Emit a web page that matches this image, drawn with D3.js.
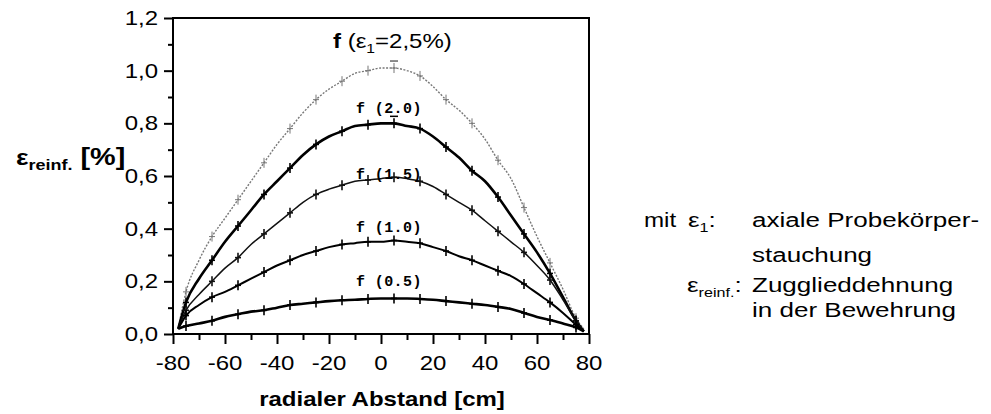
<!DOCTYPE html>
<html>
<head>
<meta charset="utf-8">
<script src="https://cdn.jsdelivr.net/npm/d3@7"></script>
<style>
  body { margin: 0; background: #fff; }
  text { font-family: "Liberation Sans", Arial, sans-serif; fill: #000; }
  .mono { font-family: "Liberation Mono", "DejaVu Sans Mono", monospace; font-weight: bold; }
</style>
</head>
<body>
<svg id="chart" width="991" height="414"></svg>
<script>
// radial distance [cm]
const radius = [-78, -75, -70, -65, -60, -55, -50, -45, -40, -35, -30, -25, -20, -15, -10, -5, 0,
                5, 10, 15, 20, 25, 30, 35, 40, 45, 50, 55, 60, 65, 70, 75, 78];

// reinforcement strain [%] for each axial strain eps1
const f25 = [0.02, 0.16, 0.28, 0.37, 0.44, 0.51, 0.58, 0.65, 0.72, 0.78, 0.84, 0.89, 0.93, 0.96, 0.99, 1.00, 1.01,
             1.01, 1.00, 0.98, 0.94, 0.89, 0.85, 0.80, 0.74, 0.66, 0.59, 0.48, 0.37, 0.27, 0.17, 0.06, 0.02];
const f20 = [0.02, 0.12, 0.21, 0.28, 0.35, 0.41, 0.47, 0.53, 0.58, 0.63, 0.68, 0.72, 0.75, 0.77, 0.79, 0.795, 0.80,
             0.80, 0.79, 0.78, 0.75, 0.71, 0.67, 0.62, 0.58, 0.52, 0.45, 0.38, 0.31, 0.23, 0.14, 0.05, 0.01];
const f15 = [0.02, 0.09, 0.15, 0.20, 0.25, 0.29, 0.34, 0.38, 0.42, 0.46, 0.50, 0.53, 0.55, 0.565, 0.58, 0.585, 0.59,
             0.595, 0.59, 0.58, 0.56, 0.53, 0.50, 0.47, 0.43, 0.39, 0.35, 0.31, 0.26, 0.205, 0.13, 0.05, 0.01];
const f10 = [0.02, 0.07, 0.11, 0.14, 0.16, 0.185, 0.21, 0.235, 0.26, 0.28, 0.30, 0.315, 0.33, 0.34, 0.345, 0.35, 0.35,
             0.355, 0.35, 0.345, 0.33, 0.315, 0.295, 0.28, 0.26, 0.24, 0.22, 0.19, 0.155, 0.12, 0.08, 0.035, 0.01];
const f05 = [0.02, 0.03, 0.04, 0.05, 0.065, 0.075, 0.085, 0.09, 0.10, 0.11, 0.115, 0.12, 0.125, 0.128, 0.13, 0.133, 0.135,
             0.135, 0.135, 0.133, 0.13, 0.125, 0.12, 0.115, 0.11, 0.103, 0.095, 0.08, 0.065, 0.053, 0.04, 0.025, 0.01];

// radii where the measurement crosses sit
const markerRadius = [-75, -65, -55, -45, -35, -25, -15, -5, 5, 15, 25, 35, 45, 55, 65, 75];

const xTicks = [-80, -60, -40, -20, 0, 20, 40, 60, 80];
const yTicks = [0, 0.2, 0.4, 0.6, 0.8, 1.0, 1.2];
const curveLabels = ["f (2.0)", "f (1.5)", "f (1.0)", "f (0.5)"];

const svg = d3.select("#chart");
const sx = 1.2; // the original lettering is a bit wide

const x = d3.scaleLinear().domain([-80, 80]).range([173, 589]);
const y = d3.scaleLinear().domain([0, 1.2]).range([334, 18]);

function label(g, px, py, anchor, size, weight, stretch) {
    return g.append("text")
        .attr("transform", "translate(" + px + "," + py + ") scale(" + (stretch || sx) + ",1)")
        .attr("text-anchor", anchor)
        .attr("font-size", size)
        .attr("font-weight", weight || "normal");
}

// curves
const series = [
    { v: f25, w: 1.4, col: "#777", dash: "2,1.5", marks: false },
    { v: f20, w: 2.6, col: "#000", dash: null, marks: true },
    { v: f15, w: 1.5, col: "#111", dash: null, marks: true },
    { v: f10, w: 2.0, col: "#000", dash: null, marks: true },
    { v: f05, w: 2.6, col: "#000", dash: null, marks: true }
];

const line = d3.line()
    .x(d => x(d[0]))
    .y(d => y(d[1]))
    .curve(d3.curveMonotoneX);

const plot = svg.append("g");

series.forEach(s => {
    const pts = radius.map((r, i) => [r, s.v[i]]);
    plot.append("path")
        .attr("d", line(pts))
        .attr("fill", "none")
        .attr("stroke", s.col)
        .attr("stroke-width", s.w)
        .attr("stroke-linejoin", "round")
        .attr("stroke-dasharray", s.dash);

    const m = pts.filter(p => markerRadius.includes(p[0]));
    const mg = plot.append("g")
        .attr("stroke", s.col)
        .attr("stroke-width", s.marks ? 1.6 : 1);
    mg.selectAll(".v").data(m).join("line")
        .attr("x1", d => x(d[0])).attr("x2", d => x(d[0]))
        .attr("y1", d => y(d[1]) - 5).attr("y2", d => y(d[1]) + 5);
    mg.selectAll(".h").data(m).join("line")
        .attr("x1", d => x(d[0]) - 3).attr("x2", d => x(d[0]) + 3)
        .attr("y1", d => y(d[1])).attr("y2", d => y(d[1]));
});

// error caps at r = 5 on the two upper curves
[f25, f20].forEach((v, k) => {
    const i = radius.indexOf(5);
    const cx = x(5), cy = y(v[i]) - 7;
    plot.append("line")
        .attr("x1", cx - 4).attr("x2", cx + 4).attr("y1", cy).attr("y2", cy)
        .attr("stroke", k === 0 ? "#666" : "#000").attr("stroke-width", 1.5);
});

// curve labels
const labelY = [113, 179, 232, 286];
curveLabels.forEach((t, i) => {
    plot.append("text")
        .attr("class", "mono")
        .attr("x", 356).attr("y", labelY[i])
        .attr("font-size", 15)
        .attr("letter-spacing", 0.4)
        .text(t);
});

const topLabel = label(svg, 333, 48, "start", 20);
topLabel.append("tspan").attr("font-weight", "bold").text("f");
topLabel.append("tspan").text(" (ε");
topLabel.append("tspan").attr("font-size", 13).attr("dy", 5).text("1");
topLabel.append("tspan").attr("dy", -5).text("=2,5%)");

// frame
svg.append("rect")
    .attr("x", x(-80)).attr("y", y(1.2))
    .attr("width", x(80) - x(-80)).attr("height", y(0) - y(1.2))
    .attr("fill", "none").attr("stroke", "#000").attr("stroke-width", 2);

// axes
const xAxis = svg.append("g")
    .attr("transform", "translate(0," + y(0) + ")")
    .call(d3.axisBottom(x).tickValues(d3.range(-80, 81, 10)).tickSize(6).tickFormat(""));
xAxis.selectAll(".tick line")
    .attr("stroke-width", 2)
    .attr("y2", d => d % 20 === 0 ? 10 : 6);
xAxis.select(".domain").remove();

const yAxis = svg.append("g")
    .attr("transform", "translate(" + x(-80) + ",0)")
    .call(d3.axisLeft(y).tickValues(d3.range(0, 1.21, 0.1)).tickSize(6).tickFormat(""));
yAxis.selectAll(".tick line")
    .attr("stroke-width", 2)
    .attr("x2", (d, i) => i % 2 === 0 ? -9 : -5);
yAxis.select(".domain").remove();

xTicks.forEach(t => {
    label(svg, x(t), 370, "middle", 20).text(t);
});
yTicks.forEach(t => {
    label(svg, 158, y(t) + 7, "end", 20).text(d3.format(".1f")(t).replace(".", ","));
});

// axis titles
label(svg, 382, 406, "middle", 20, "bold").text("radialer Abstand [cm]");

const yt = label(svg, 16, 165, "start", 22, "bold");
yt.append("tspan").text("ε");
yt.append("tspan").attr("font-size", 15).attr("dy", 5).text("reinf.");
yt.append("tspan").attr("dy", -5).attr("font-size", 24).text(" [%]");

// explanation on the right
const ls = 1.24;
label(svg, 644, 227, "start", 21, null, 1.15).text("mit");
const e1 = label(svg, 688, 227, "start", 21, null, ls);
e1.append("tspan").text("ε");
e1.append("tspan").attr("font-size", 13).attr("dy", 5).text("1");
e1.append("tspan").attr("dy", -5).text(":");
label(svg, 752, 227, "start", 21, null, ls).text("axiale Probekörper-");
label(svg, 752, 262, "start", 21, null, ls).text("stauchung");

const e2 = label(svg, 687, 292, "start", 21, null, ls);
e2.append("tspan").text("ε");
e2.append("tspan").attr("font-size", 13).attr("dy", 5).text("reinf.");
e2.append("tspan").attr("dy", -5).text(":");
label(svg, 752, 292, "start", 21, null, ls).text("Zugglieddehnung");
label(svg, 752, 317, "start", 21, null, ls).text("in der Bewehrung");
</script>
</body>
</html>
